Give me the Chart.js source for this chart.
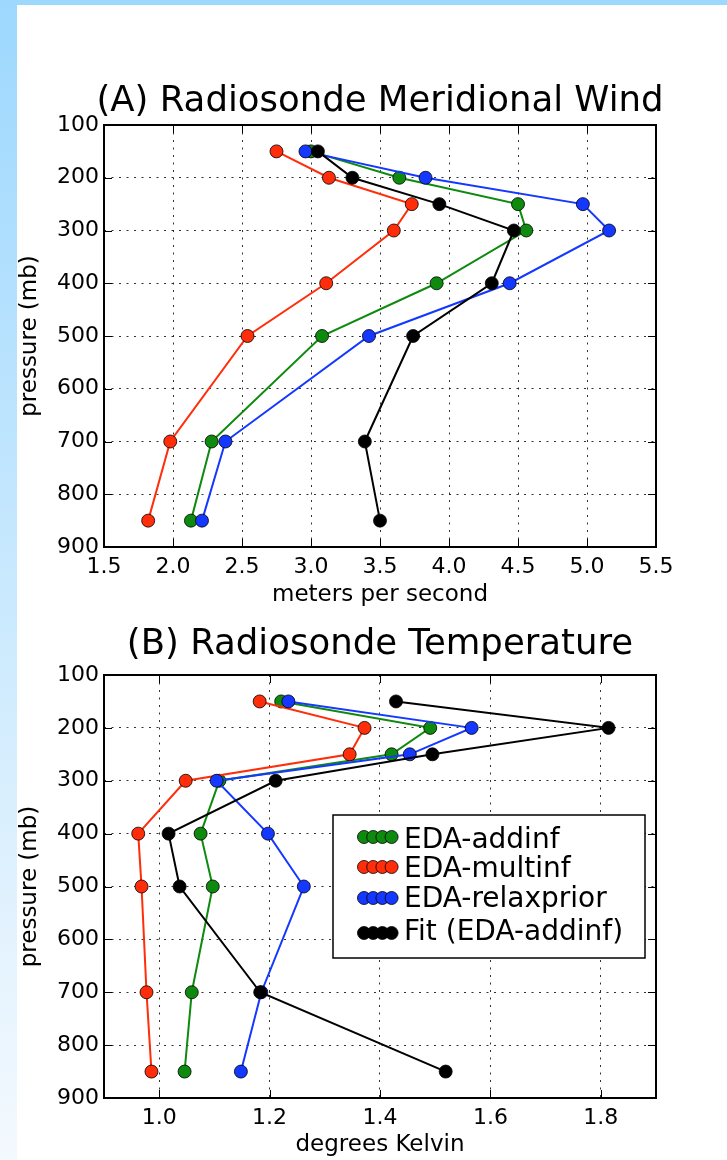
<!DOCTYPE html>
<html>
<head>
<meta charset="utf-8">
<script src="https://cdn.jsdelivr.net/npm/chart.js@4.4.0/dist/chart.umd.min.js"></script>
<style>
  html, body { margin: 0; padding: 0; background: #fff; }
  #page { position: relative; width: 727px; height: 1160px; overflow: hidden; background: #fff; }
  #bandTop { position: absolute; left: 0; top: 0; width: 727px; height: 5px; background: #9dd8fe; }
  #bandLeft { position: absolute; left: 0; top: 0; width: 17px; height: 1160px; background: linear-gradient(#9dd8fe, #f4f9fe); }
  canvas { position: absolute; left: 0; }
  #windChart { top: 0; }
  #tempChart { top: 620px; }
</style>
</head>
<body>
<div id="page">
  <div id="bandLeft"></div>
  <div id="bandTop"></div>
  <canvas id="windChart" width="727" height="620"></canvas>
  <canvas id="tempChart" width="727" height="540"></canvas>
</div>
<script>
// pressure levels (mb) shared by both panels
const pressureLevels = [150, 200, 250, 300, 400, 500, 700, 850];
const pressureTicks = [100, 200, 300, 400, 500, 600, 700, 800, 900];
const seriesNames = ['EDA-addinf', 'EDA-multinf', 'EDA-relaxprior', 'Fit (EDA-addinf)'];

// (A) meridional wind, meters per second
const windAddinf = [3.00, 3.64, 4.50, 4.56, 3.91, 3.08, 2.28, 2.13];
const windMultinf = [2.75, 3.13, 3.73, 3.60, 3.11, 2.54, 1.98, 1.82];
const windRelaxprior = [2.96, 3.83, 4.97, 5.16, 4.44, 3.42, 2.38, 2.21];
const windFit = [3.05, 3.30, 3.93, 4.47, 4.31, 3.74, 3.39, 3.50];
const windTicks = [1.5, 2.0, 2.5, 3.0, 3.5, 4.0, 4.5, 5.0, 5.5];

// (B) temperature, degrees Kelvin
const tempAddinf = [1.221, 1.491, 1.421, 1.109, 1.075, 1.097, 1.059, 1.046];
const tempMultinf = [1.182, 1.372, 1.345, 1.048, 0.962, 0.968, 0.977, 0.986];
const tempRelaxprior = [1.234, 1.566, 1.454, 1.104, 1.197, 1.262, 1.185, 1.148];
const tempFit = [1.429, 1.814, 1.495, 1.211, 1.017, 1.037, 1.183, 1.519];
const tempTicks = [1.0, 1.2, 1.4, 1.6, 1.8];

const colors = ['#0e8a0e', '#ff2d0a', '#1438ff', '#000000'];
const FONT = '"DejaVu Sans", sans-serif';

Chart.defaults.font.family = FONT;
Chart.defaults.color = '#000';

function buildSets(series) {
    return series.map((vals, i) => ({
        label: seriesNames[i],
        data: vals.map((v, k) => ({ x: v, y: pressureLevels[k] })),
        showLine: true,
        borderColor: colors[i],
        backgroundColor: colors[i],
        borderWidth: 2,
        pointRadius: 6.5,
        pointBackgroundColor: colors[i],
        pointBorderColor: '#000',
        pointBorderWidth: 0.8,
        order: series.length - i   // last series (Fit) on top, like matplotlib
    }));
}

// frame, inward ticks on all four sides and the panel title
const panelDecor = {
    id: 'panelDecor',
    afterDraw(chart, args, opts) {
        const { ctx, chartArea: a, scales } = chart;
        const tl = 8;
        ctx.save();
        ctx.strokeStyle = '#000';
        ctx.lineWidth = 1;
        ctx.beginPath();
        scales.x.ticks.forEach(t => {
            const px = Math.round(scales.x.getPixelForValue(t.value)) + 0.5;
            ctx.moveTo(px, a.top); ctx.lineTo(px, a.top + tl);
            ctx.moveTo(px, a.bottom); ctx.lineTo(px, a.bottom - tl);
        });
        scales.y.ticks.forEach(t => {
            const py = Math.round(scales.y.getPixelForValue(t.value)) + 0.5;
            ctx.moveTo(a.left, py); ctx.lineTo(a.left + tl, py);
            ctx.moveTo(a.right, py); ctx.lineTo(a.right - tl, py);
        });
        ctx.stroke();
        ctx.lineWidth = 2;
        ctx.strokeRect(a.left, a.top, a.right - a.left, a.bottom - a.top);

        ctx.fillStyle = '#000';
        ctx.font = '35.5px ' + FONT;
        ctx.textAlign = 'center';
        ctx.textBaseline = 'alphabetic';
        ctx.fillText(opts.text, (a.left + a.right) / 2, a.top - opts.gap);
        ctx.restore();
    }
};

// matplotlib style legend box with four markers per entry
const boxLegend = {
    id: 'boxLegend',
    afterDraw(chart, args, opts) {
        if (!opts.show) return;
        const { ctx } = chart;
        const b = opts.box;
        ctx.save();
        ctx.fillStyle = '#fff';
        ctx.fillRect(b.x, b.y, b.w, b.h);
        ctx.strokeStyle = '#000';
        ctx.lineWidth = 1.5;
        ctx.strokeRect(b.x, b.y, b.w, b.h);
        ctx.font = '28px ' + FONT;
        ctx.textAlign = 'left';
        ctx.textBaseline = 'alphabetic';
        chart.data.datasets.forEach((ds, i) => {
            const my = b.y + opts.markerY[i];
            ctx.strokeStyle = ds.borderColor;
            ctx.lineWidth = 2;
            ctx.beginPath();
            ctx.moveTo(b.x + 31, my); ctx.lineTo(b.x + 59, my);
            ctx.stroke();
            for (let k = 0; k < 4; k++) {
                ctx.beginPath();
                ctx.arc(b.x + 31 + k * 9.2, my, 6.5, 0, Math.PI * 2);
                ctx.fillStyle = ds.pointBackgroundColor;
                ctx.fill();
                ctx.lineWidth = 0.8;
                ctx.strokeStyle = '#000';
                ctx.stroke();
            }
            ctx.fillStyle = '#000';
            ctx.fillText(ds.label, b.x + 71, b.y + opts.textY[i]);
        });
        ctx.restore();
    }
};

function makeChart(canvasId, series, xMin, xMax, xTicks, xTitle, title, extra) {
    return new Chart(document.getElementById(canvasId), {
        type: 'scatter',
        data: { datasets: buildSets(series) },
        plugins: [panelDecor, boxLegend],
        options: {
            responsive: false,
            animation: false,
            devicePixelRatio: 1,
            layout: { padding: { top: extra.top, right: 71, bottom: 0, left: 0 } },
            plugins: {
                legend: { display: false },
                tooltip: { enabled: false },
                panelDecor: { text: title, gap: extra.titleGap },
                boxLegend: extra.legend || { show: false }
            },
            scales: {
                x: {
                    type: 'linear',
                    min: xMin,
                    max: xMax,
                    afterBuildTicks: s => { s.ticks = xTicks.map(v => ({ value: v })); },
                    afterFit: s => { s.height = extra.xHeight; },
                    ticks: {
                        autoSkip: false,
                        maxRotation: 0,
                        padding: 7,
                        font: { size: 22 },
                        callback: v => v.toFixed(1)
                    },
                    grid: { color: 'rgba(0,0,0,0.8)', lineWidth: 1, drawTicks: false },
                    border: { display: false, dash: [2, 5.5] },
                    title: {
                        display: true,
                        text: xTitle,
                        font: { size: 23 },
                        padding: { top: 0, bottom: extra.xTitlePad }
                    }
                },
                y: {
                    type: 'linear',
                    reverse: true,
                    min: 100,
                    max: 900,
                    afterBuildTicks: s => { s.ticks = pressureTicks.map(v => ({ value: v })); },
                    afterFit: s => { s.width = 104; },
                    ticks: {
                        autoSkip: false,
                        padding: 5,
                        font: { size: 22 },
                        callback: v => String(v)
                    },
                    grid: { color: 'rgba(0,0,0,0.8)', lineWidth: 1, drawTicks: false },
                    border: { display: false, dash: [2, 5.5] },
                    title: {
                        display: true,
                        text: 'pressure (mb)',
                        font: { size: 23 },
                        padding: { top: 16, bottom: 0 }
                    }
                }
            }
        }
    });
}

makeChart('windChart',
    [windAddinf, windMultinf, windRelaxprior, windFit],
    1.5, 5.5, windTicks, 'meters per second', '(A) Radiosonde Meridional Wind',
    { top: 125, xHeight: 73, xTitlePad: 11, titleGap: 14 });

makeChart('tempChart',
    [tempAddinf, tempMultinf, tempRelaxprior, tempFit],
    0.9, 1.9, tempTicks, 'degrees Kelvin', '(B) Radiosonde Temperature',
    {
        top: 55, xHeight: 62, xTitlePad: 1, titleGap: 21,
        legend: {
            show: true,
            box: { x: 333, y: 195, w: 312, h: 143 },
            markerY: [22, 52, 83, 118],
            textY: [33, 62, 92, 125]
        }
    });
</script>
</body>
</html>
